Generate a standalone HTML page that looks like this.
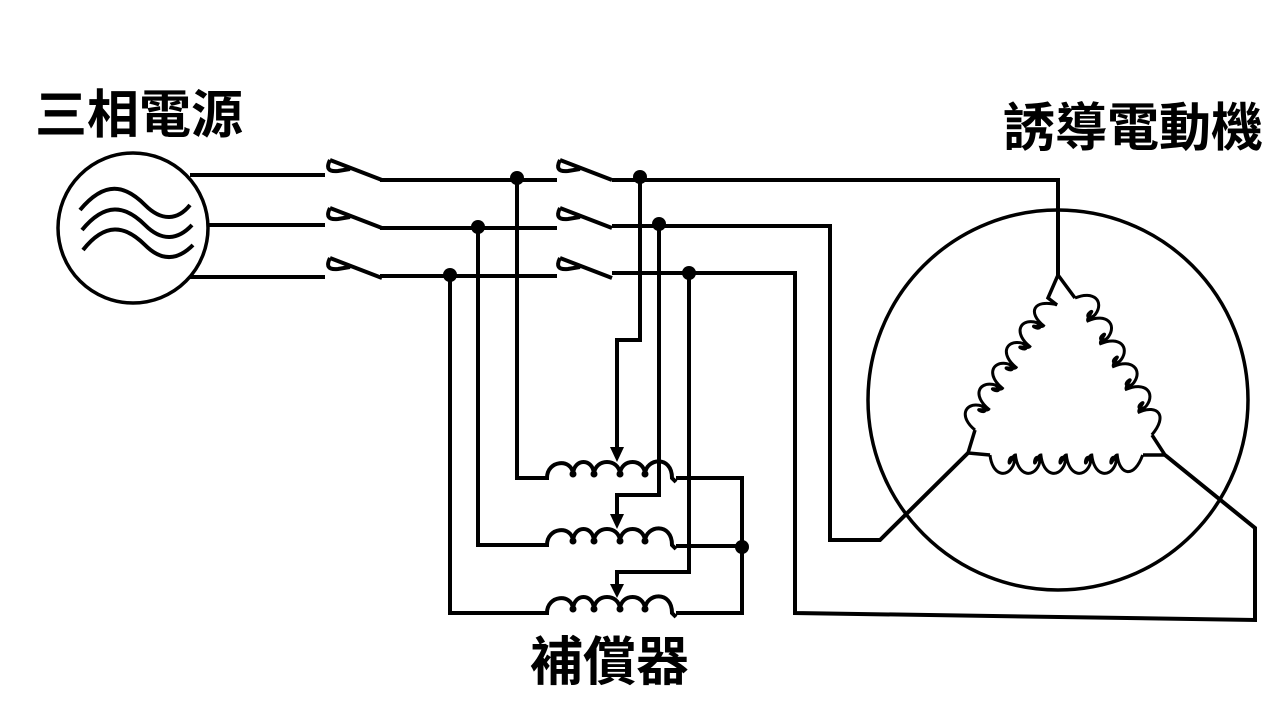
<!DOCTYPE html>
<html><head><meta charset="utf-8"><style>
html,body{margin:0;padding:0;background:#fff;width:1280px;height:720px;overflow:hidden}
svg{display:block}
text{font-family:"Liberation Sans","Noto Sans CJK TC","Noto Sans CJK JP",sans-serif;font-weight:bold;fill:#000}
</style></head><body>
<svg width="1280" height="720" viewBox="0 0 1280 720" xmlns="http://www.w3.org/2000/svg">
<defs>
<g id="coil">
<path d="M545,478 L547,478 C547,460 572,458 573,474 C574,458 593,458 594,474 C595,458 619,458 620,474 C621,458 644,458 645,474 C646,458 672,455 672,478 L676,482" fill="none" stroke="#000" stroke-width="4"/>
<circle cx="573" cy="474" r="3.5"/><circle cx="594" cy="474" r="3.5"/><circle cx="620" cy="474" r="3.5"/><circle cx="645" cy="474" r="3.5"/>
</g>
<g id="sw">
<path d="M0,0 L52,20 M0,0 C-4,8 -2,12 8,11 L20,9" fill="none" stroke="#000" stroke-width="4"/>
</g>
<path id="tc" d="M0,0 c2,12 16,14 22,6 c3,-4 -3,-7 -4,-2 c0,3 3,-4 6,-4 c2,12 16,14 22,6 c3,-4 -3,-7 -4,-2 c0,3 3,-4 6,-4 c2,12 16,14 22,6 c3,-4 -3,-7 -4,-2 c0,3 3,-4 6,-4 c2,12 16,14 22,6 c3,-4 -3,-7 -4,-2 c0,3 3,-4 6,-4 c2,12 16,14 22,6 c3,-4 -3,-7 -4,-2 c0,3 3,-4 6,-4 c2,12 16,14 24,0" fill="none" stroke="#000" stroke-width="3" vector-effect="non-scaling-stroke"/>
</defs>
<text x="35" y="133" font-size="52">三相電源</text>
<text x="1003" y="146" font-size="52">誘導電動機</text>
<text x="530" y="680" font-size="53">補償器</text>

<g fill="none" stroke="#000" stroke-width="4">
<circle cx="133" cy="228" r="75" stroke-width="3.5"/>
<path d="M80,210 C105,180 125,185 145,205 C162,222 178,220 190,205"/>
<path d="M82,230 C105,202 125,205 145,225 C162,242 178,240 192,225"/>
<path d="M83,250 C105,222 125,225 145,245 C162,262 178,260 193,245"/>
<path d="M190,175 H325 M208,225 H325 M190,277 H325"/>
<path d="M380,180 H557 M612,180 H1058 V275"/>
<path d="M380,228 H557 M612,226 H830 V540 H880 L968,453"/>
<path d="M380,276 H557 M612,273 H795 V613 L1255,620 V528 L1165,455"/>
<path d="M517,178 V478 H545"/>
<path d="M478,227 V545 H545"/>
<path d="M450,275 V613 H545"/>
<path d="M640,177 V340 H617 V450"/>
<path d="M659,224 V495 H617 V515"/>
<path d="M689,273 V572 H617 V588"/>
<path d="M676,478 H742 V613 H676 M676,546 H742"/>
<circle cx="1058" cy="400" r="190" stroke-width="3.5"/>
<path d="M1075,298 L1058,275 L1048,298 L1057,305 M975,430 L968,453 L990,455 M1143,455 L1165,455 L1152,435" stroke-width="3.5"/>
</g>
<use href="#tc" transform="translate(975,430) rotate(-56.7) scale(1.04,-1.7)"/>
<use href="#tc" transform="translate(990,455) scale(1.06,1.7)"/>
<use href="#tc" transform="translate(1075,298) rotate(60.7) scale(1.09,-1.7)"/>
<g fill="#000">
<use href="#sw" x="330" y="160"/><use href="#sw" x="330" y="208"/><use href="#sw" x="330" y="258"/>
<use href="#sw" x="560" y="160"/><use href="#sw" x="560" y="208"/><use href="#sw" x="560" y="258"/>
<circle cx="517" cy="178" r="7"/><circle cx="478" cy="227" r="7"/><circle cx="450" cy="275" r="7"/>
<circle cx="640" cy="177" r="7"/><circle cx="659" cy="224" r="7"/><circle cx="689" cy="273" r="7"/>
<circle cx="742" cy="547" r="7"/>
<use href="#coil"/><use href="#coil" y="67"/><use href="#coil" y="135"/>
<path d="M610,447 H624 L617,462 Z"/><path d="M610,514 H624 L617,529 Z"/><path d="M610,584 H624 L617,598 Z"/>
</g>
</svg>
</body></html>
